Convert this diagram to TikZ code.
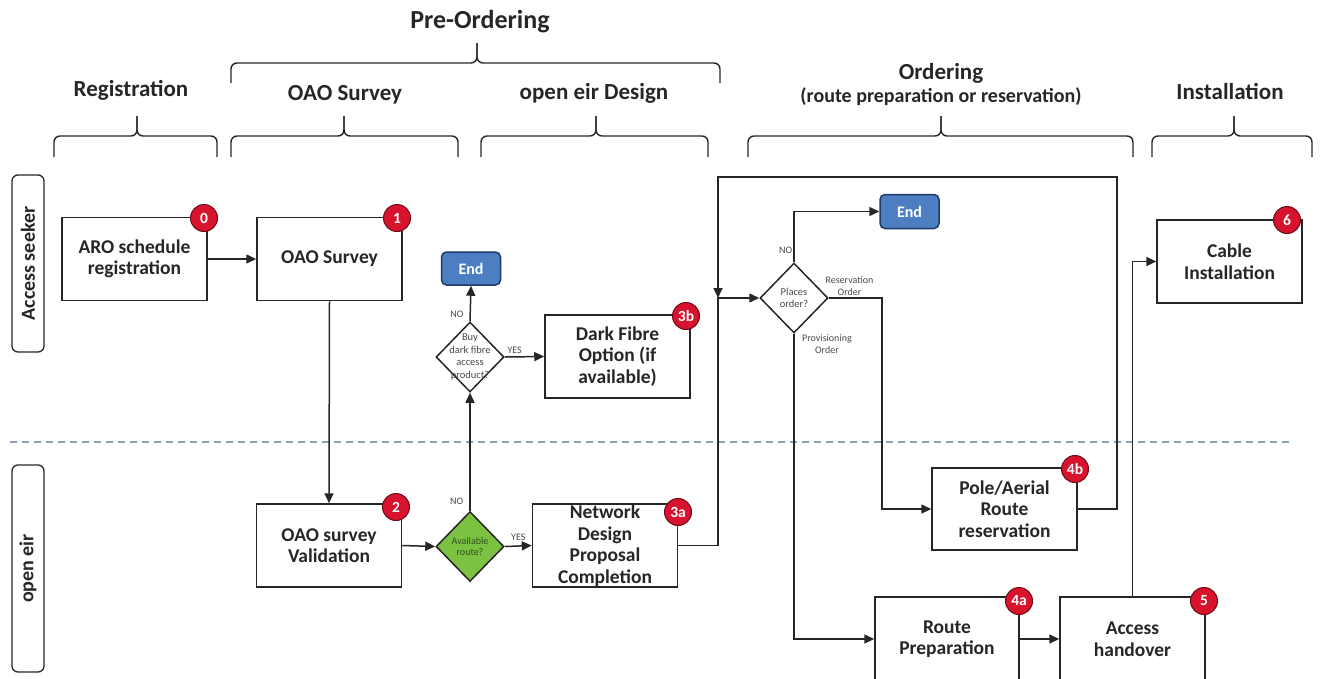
\documentclass[tikz,border=0pt]{standalone}
\usepackage{fontspec}
\setmainfont{Carlito}
\usetikzlibrary{shapes.geometric,arrows.meta}
\definecolor{linec}{HTML}{262626}
\definecolor{badger}{HTML}{D7132D}
\definecolor{badgeb}{HTML}{6E0A14}
\definecolor{endfill}{HTML}{4C7EC1}
\definecolor{endborder}{HTML}{1F3A68}
\definecolor{greenf}{HTML}{7CC242}
\definecolor{greent}{HTML}{2E4A1E}
\definecolor{dashc}{HTML}{8FA0B6}
\definecolor{lblc}{HTML}{4A4A4A}
% curly bracket: x1, x2, xtip, y horizontal, y ends, y tip
\newcommand\phbr[6]{%
  \draw[brl] (#1,#5) -- (#1,#4) -- (#3,#4) -- (#3,#6);
  \draw[brl] (#2,#5) -- (#2,#4) -- (#3,#4) -- (#3,#6);}
\begin{document}
\begin{tikzpicture}[x=1pt,y=-1pt,
  box/.style={draw=linec, line width=1.5pt, fill=white, text=linec,
    minimum width=145pt, minimum height=83pt, inner sep=2pt, align=center,
    font=\bfseries\fontsize{19.5}{21.5}\selectfont},
  dia/.style={diamond, draw=linec, line width=1.5pt, fill=white,
    minimum width=68pt, minimum height=70pt, inner sep=0pt},
  dtext/.style={text=lblc, align=center, font=\fontsize{10.5}{12.5}\selectfont, inner sep=0pt},
  endbox/.style={draw=endborder, fill=endfill, line width=1.5pt, rounded corners=5pt,
    text=white, font=\bfseries\fontsize{16}{16}\selectfont,
    minimum width=59pt, minimum height=33pt, inner sep=0pt},
  badge/.style={circle, draw=badgeb, line width=1pt, fill=badger, text=white,
    minimum size=27pt, inner sep=0pt, font=\bfseries\fontsize{15.5}{15.5}\selectfont},
  lane/.style={draw=linec, line width=1.3pt, rounded corners=6pt, rotate=90,
    minimum height=32pt, inner sep=0pt, text=linec,
    font=\bfseries\fontsize{20}{20}\selectfont},
  hdr/.style={text=linec, font=\bfseries\fontsize{23}{23}\selectfont, inner sep=0pt},
  lbl/.style={text=lblc, font=\fontsize{10}{12}\selectfont, inner sep=1pt, align=center},
  arr/.style={draw=linec, line width=1.5pt, -{Triangle[length=10pt,width=9pt]}},
  brl/.style={draw=linec, line width=1.4pt, rounded corners=6pt}]
\useasboundingbox (0,0) rectangle (1322,678);
\clip (0,0) rectangle (1322,678);

% lane separator
\draw[dashc, line width=1.4pt, dash pattern=on 7pt off 5pt] (10,442) -- (1292,442);

% headers
\node[hdr, font=\bfseries\fontsize{26}{26}\selectfont] (hpre) at (480,22) {Pre-Ordering};
\node[hdr] (hreg) at (131,90) {Registration};
\node[hdr] (hoao) at (345,95) {OAO Survey};
\node[hdr] (hdes) at (594,93) {open eir Design};
\node[hdr] (hord) at (941,73) {Ordering};
\node[hdr, font=\bfseries\fontsize{20}{20}\selectfont] (hsub) at (941,97) {(route preparation or reservation)};
\node[hdr] (hins) at (1230,91) {Installation};

% braces
\phbr{231}{720}{477}{63}{83}{43}
\phbr{54}{217}{137}{136}{157}{116}
\phbr{231}{458}{344}{136}{157}{116}
\phbr{481}{708}{596}{136}{157}{116}
\phbr{748}{1133}{941}{136}{157}{116}
\phbr{1152}{1312}{1234}{136}{157}{116}

% lanes
\node[lane, minimum width=177pt] (lane1) at (28,263.5) {Access seeker};
\node[lane, minimum width=207pt] (lane2) at (28,568.5) {open eir};

% process boxes
\node[box] (aro) at (134.5,259) {ARO schedule\\registration};
\node[box] (oao) at (329.5,259) {OAO Survey};
\node[box] (val) at (329,545.5) {OAO survey\\Validation};
\node[box, inner ysep=0pt] (net) at (605,545.5) {Network\\Design\\Proposal\\Completion};
\node[box] (dark) at (617.5,356.5) {Dark Fibre\\Option (if\\available)};
\node[box, minimum height=82pt] (pole) at (1004.5,509) {Pole/Aerial\\Route\\reservation};
\node[box, minimum width=144pt, minimum height=84pt] (route) at (947,639) {Route\\Preparation};
\node[box, minimum height=84pt] (access) at (1132.5,639) {Access\\handover};
\node[box] (cable) at (1229.5,261.5) {Cable\\Installation};

% end nodes
\node[endbox] (end1) at (471,268.5) {End};
\node[endbox, minimum height=34pt] (end2) at (909.5,211.5) {End};

% decisions
\node[dia, label={[dtext]center:{Buy\\dark fibre\\access\\product?}}] (buy) at (470,357) {};
\node[dia, fill=greenf, label={[dtext, text=greent, font=\fontsize{10}{11}\selectfont]center:{Available\\route?}}] (avail) at (470,546.5) {};
\node[dia, label={[dtext, font=\fontsize{10.5}{12}\selectfont]center:{Places\\order?}}] (places) at (794,298) {};

% badges
\node[badge] (b0) at (204,218) {0};
\node[badge] (b1) at (397,218) {1};
\node[badge] (b2) at (396,507) {2};
\node[badge] (b3a) at (678,512) {3a};
\node[badge] (b3b) at (686,316) {3b};
\node[badge] (b4b) at (1075,469) {4b};
\node[badge] (b4a) at (1019,601) {4a};
\node[badge] (b5) at (1204,601) {5};
\node[badge] (b6) at (1287,220) {6};

% junction coordinates
\coordinate (j1) at (718,298);
\coordinate (lp) at (1117,177);
\coordinate (r1) at (882,298);

% connectors
\draw[arr] (aro.east) -- (oao.west);
\draw[arr] (oao.south) -- (val.north);
\draw[arr] (val.east) -- (avail.west);
\draw[arr] (avail.east) -- node[lbl, above=4pt] {YES} (net.west);
\draw[arr] (avail.north) -- node[lbl, pos=0.08, left=5pt] {NO} (buy.south);
\draw[arr] (buy.north) -- node[lbl, pos=0.21, left=5pt] {NO} (end1.south);
\draw[arr] (buy.east) -- node[lbl, pos=0.25, above=2pt] {YES} (dark.west);
\draw[arr] (net.east) -| (j1) -- (places.west);
\draw[arr] (pole.east) -| (lp) -| (j1);
\draw[arr] (places.north) |- node[lbl, pos=0.118, left=0pt] {NO} (end2.west);
\draw[arr] (places.east) -- node[lbl, pos=0.39, above=1pt] {Reservation\\Order} (r1) |- (pole.west);
\draw[arr] (places.south) |- (route.west);
\node[lbl, anchor=north west] (provl) at ([xshift=7pt]places.south) {Provisioning\\Order};
\draw[arr] (route.east) -- (access.west);
\draw[arr] (access.north) |- (cable.west);
\end{tikzpicture}
\end{document}
